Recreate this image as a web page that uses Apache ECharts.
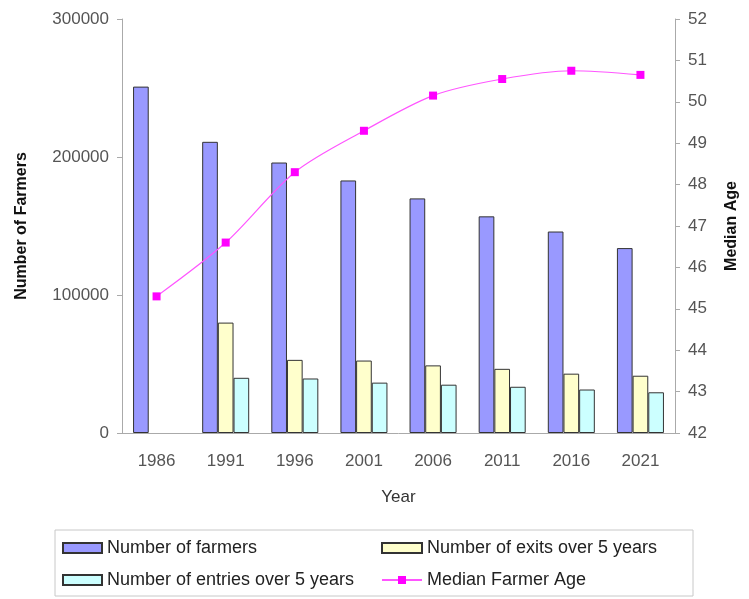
<!DOCTYPE html>
<html>
<head>
<meta charset="utf-8">
<script src="https://cdn.jsdelivr.net/npm/echarts@6/dist/echarts.min.js"></script>
<style>
    html, body { margin: 0; padding: 0; background: #fff; }
    #farm_chart { width: 749px; height: 599px; }
</style>
</head>
<body>
<div id="farm_chart"></div>
<script>
// Chart data
// ------------------------------

var years = ['1986', '1991', '1996', '2001', '2006', '2011', '2016', '2021'];
var farmers = [251000, 211000, 196000, 183000, 170000, 157000, 146000, 134000];
var exits = [null, 80000, 53000, 52500, 49000, 46500, 43000, 41500];
var entries = [null, 40000, 39500, 36500, 35000, 33500, 31500, 29500];
var medianAge = [45.3, 46.6, 48.3, 49.3, 50.15, 50.55, 50.75, 50.65];

var font = '"Liberation Sans", Arial, sans-serif';

// Initialize chart
// ------------------------------

var farm_chart = echarts.init(document.getElementById('farm_chart'));

var legend_text = { fontFamily: font, fontSize: 18, color: '#222', lineHeight: 20 };

var farm_chart_options = {
    animation: false,
    backgroundColor: '#fff',

    grid: { left: 122, right: 74, top: 19, bottom: 166 },

    // legend frame
    graphic: [{
        type: 'rect',
        shape: { x: 55, y: 530, width: 638, height: 66 },
        style: { fill: 'none', stroke: '#c8c8c8', lineWidth: 1 }
    }],

    legend: [{
        orient: 'vertical',
        left: 62,
        top: 538,
        padding: 0,
        itemWidth: 39,
        itemHeight: 10,
        itemGap: 12,
        textStyle: legend_text,
        data: [
            { name: 'Number of farmers', icon: 'rect' },
            { name: 'Number of entries over 5 years', icon: 'rect' }
        ]
    }, {
        orient: 'vertical',
        left: 381,
        top: 538,
        padding: 0,
        itemWidth: 40,
        itemHeight: 10,
        itemGap: 12,
        textStyle: legend_text,
        data: [
            { name: 'Number of exits over 5 years', icon: 'rect' },
            'Median Farmer Age'
        ]
    }],

    xAxis: {
        type: 'category',
        data: years,
        name: 'Year',
        nameLocation: 'middle',
        nameGap: 56,
        nameTextStyle: { fontFamily: font, fontSize: 17, color: '#333' },
        axisLine: { lineStyle: { color: '#aaa' } },
        axisTick: { length: 5, lineStyle: { color: '#aaa' } },
        axisLabel: { fontFamily: font, fontSize: 17, color: '#555', margin: 20 }
    },

    yAxis: [{
        type: 'value',
        min: 0,
        max: 300000,
        interval: 100000,
        name: 'Number of Farmers',
        nameLocation: 'middle',
        nameGap: 92,
        nameTextStyle: { fontFamily: font, fontSize: 16, fontWeight: 'bold', color: '#111' },
        axisLine: { show: true, lineStyle: { color: '#aaa' } },
        axisTick: { show: true, length: 5, lineStyle: { color: '#aaa' } },
        axisLabel: {
            fontFamily: font, fontSize: 17, color: '#555', margin: 13,
            formatter: function (v) { return String(v); }
        },
        splitLine: { show: false }
    }, {
        type: 'value',
        min: 42,
        max: 52,
        interval: 1,
        name: 'Median Age',
        nameLocation: 'middle',
        nameGap: 49,
        nameTextStyle: { fontFamily: font, fontSize: 16, fontWeight: 'bold', color: '#111' },
        axisLine: { show: true, lineStyle: { color: '#aaa' } },
        axisTick: { show: true, length: 5, lineStyle: { color: '#aaa' } },
        axisLabel: { fontFamily: font, fontSize: 17, color: '#555', margin: 13 },
        splitLine: { show: false }
    }],

    series: [{
        name: 'Number of farmers',
        type: 'bar',
        data: farmers,
        barGap: '0%',
        barCategoryGap: '32%',
        itemStyle: { color: '#9999ff', borderColor: '#333', borderWidth: 1 }
    }, {
        name: 'Number of exits over 5 years',
        type: 'bar',
        data: exits,
        itemStyle: { color: '#ffffcc', borderColor: '#333', borderWidth: 1 }
    }, {
        name: 'Number of entries over 5 years',
        type: 'bar',
        data: entries,
        itemStyle: { color: '#ccffff', borderColor: '#333', borderWidth: 1 }
    }, {
        name: 'Median Farmer Age',
        type: 'line',
        yAxisIndex: 1,
        data: medianAge,
        smooth: 0.3,
        symbol: 'rect',
        symbolSize: 8,
        itemStyle: { color: '#ff00ff' },
        lineStyle: { color: '#ff55ff', width: 1.2 }
    }]
};

farm_chart.setOption(farm_chart_options);

window.onresize = function () {
    setTimeout(function () {
        farm_chart.resize();
    }, 200);
};
</script>
</body>
</html>
